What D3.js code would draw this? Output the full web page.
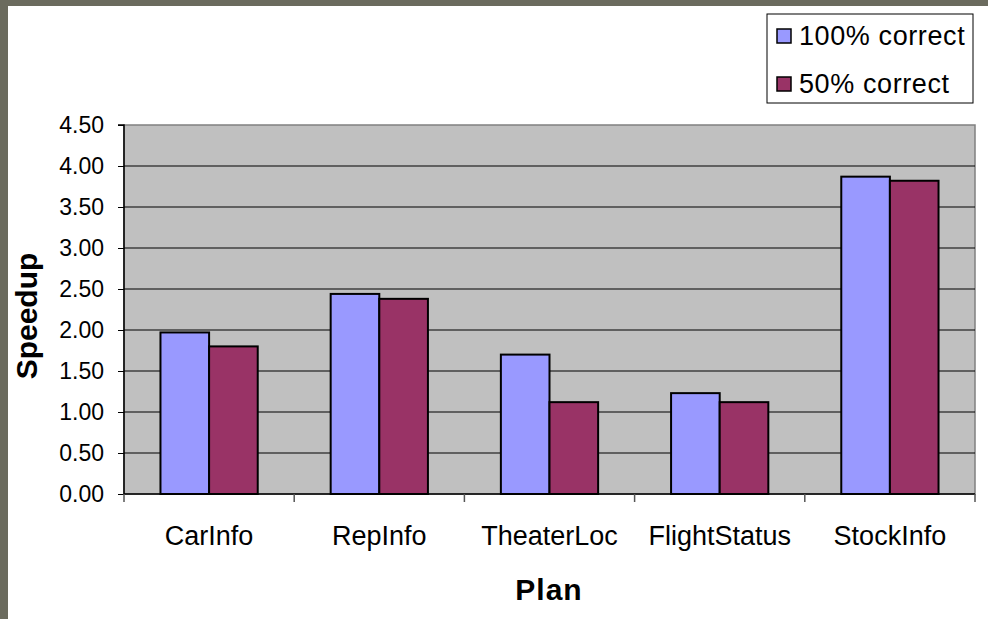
<!DOCTYPE html>
<html>
<head>
<meta charset="utf-8">
<script src="https://d3js.org/d3.v7.min.js"></script>
<style>
  html, body { margin: 0; padding: 0; background: #6b6b5e; }
  svg { display: block; font-family: "Liberation Sans", Arial, sans-serif; }
</style>
</head>
<body>
<svg id="chart" width="988" height="619"></svg>
<script>
// Speedup per plan, for two accuracy levels
const categories = ["CarInfo", "RepInfo", "TheaterLoc", "FlightStatus", "StockInfo"];
const seriesNames = ["100% correct", "50% correct"];
const full = [1.97, 2.44, 1.70, 1.23, 3.87];
const half = [1.80, 2.38, 1.12, 1.12, 3.82];
const yTicks = [0, 0.5, 1, 1.5, 2, 2.5, 3, 3.5, 4, 4.5];
const colors = ["#9999ff", "#993366"];

const svg = d3.select("#chart");
const W = 988, H = 619;

// frame and white page
svg.append("rect").attr("width", W).attr("height", H).attr("fill", "#6b6b5e");
svg.append("rect").attr("x", 8).attr("y", 6).attr("width", W - 8).attr("height", H - 6).attr("fill", "#ffffff");

const plot = { left: 124, right: 975, top: 125, bottom: 494 };

const x = d3.scaleBand().domain(categories).range([plot.left, plot.right]).paddingInner(0).paddingOuter(0);
const inner = d3.scaleBand().domain(seriesNames).range([0, x.bandwidth()]).paddingInner(0).paddingOuter(0.75);
const y = d3.scaleLinear().domain([0, 4.5]).range([plot.bottom, plot.top]);

// plot background
svg.append("rect")
  .attr("x", plot.left).attr("y", plot.top)
  .attr("width", plot.right - plot.left).attr("height", plot.bottom - plot.top)
  .attr("fill", "#c0c0c0").attr("stroke", "#808080").attr("stroke-width", 1.5);

// gridlines
svg.append("g").selectAll("line").data(yTicks.filter(d => d > 0 && d < 4.5)).join("line")
  .attr("x1", plot.left).attr("x2", plot.right)
  .attr("y1", d => y(d)).attr("y2", d => y(d))
  .attr("stroke", "#000").attr("stroke-width", 1);

// bars
const data = categories.map((c, i) => ({ cat: c, vals: [full[i], half[i]] }));
const groups = svg.append("g").selectAll("g").data(data).join("g")
  .attr("transform", d => `translate(${x(d.cat)},0)`);
groups.selectAll("rect").data(d => d.vals.map((v, j) => ({ v, s: seriesNames[j], j }))).join("rect")
  .attr("x", d => inner(d.s))
  .attr("width", inner.bandwidth())
  .attr("y", d => y(d.v))
  .attr("height", d => y(0) - y(d.v))
  .attr("fill", d => colors[d.j])
  .attr("stroke", "#000").attr("stroke-width", 2);

// y axis
const yAxis = d3.axisLeft(y).tickValues(yTicks).tickFormat(d3.format(".2f")).tickSize(6).tickPadding(14);
const yg = svg.append("g").attr("transform", `translate(${plot.left},0)`).call(yAxis);
yg.select(".domain").attr("stroke", "#000").attr("stroke-width", 1.5).attr("d", `M-6,${plot.top}H0V${plot.bottom}`);
yg.selectAll(".tick line").attr("stroke", "#000");
yg.selectAll(".tick text").attr("font-size", 23).attr("fill", "#000").attr("font-family", "Liberation Sans, Arial, sans-serif");

// x axis: ticks at category boundaries
const xb = svg.append("g");
xb.append("line").attr("x1", plot.left).attr("x2", plot.right).attr("y1", plot.bottom).attr("y2", plot.bottom)
  .attr("stroke", "#000").attr("stroke-width", 1.5);
const bounds = categories.map(c => x(c)).concat([x(categories[categories.length - 1]) + x.bandwidth()]);
xb.selectAll("line.tk").data(bounds).join("line").attr("class", "tk")
  .attr("x1", d => d).attr("x2", d => d).attr("y1", plot.bottom).attr("y2", plot.bottom + 8)
  .attr("stroke", "#555").attr("stroke-width", 1.5);
xb.selectAll("text").data(categories).join("text")
  .attr("x", d => x(d) + x.bandwidth() / 2).attr("y", 545)
  .attr("text-anchor", "middle").attr("font-size", 27).attr("fill", "#000")
  .text(d => d);

// axis titles
svg.append("text").attr("x", 549).attr("y", 600).attr("text-anchor", "middle")
  .attr("font-size", 30).attr("font-weight", "bold").attr("letter-spacing", 1).text("Plan");
svg.append("text").attr("transform", "translate(37,316) rotate(-90)").attr("text-anchor", "middle")
  .attr("font-size", 30).attr("font-weight", "bold").text("Speedup");

// legend
const lg = svg.append("g").attr("transform", "translate(767,14)");
lg.append("rect").attr("width", 206).attr("height", 89).attr("fill", "#fff").attr("stroke", "#000").attr("stroke-width", 1);
const items = lg.selectAll("g").data(seriesNames).join("g")
  .attr("transform", (d, i) => `translate(10,${22 + i * 48})`);
items.append("rect").attr("x", 0).attr("y", -7).attr("width", 14).attr("height", 14)
  .attr("fill", (d, i) => colors[i]).attr("stroke", "#000").attr("stroke-width", 1.5);
items.append("text").attr("x", 22).attr("y", 9).attr("font-size", 27).attr("letter-spacing", 0.6)
  .attr("fill", "#000").text(d => d);
</script>
</body>
</html>
